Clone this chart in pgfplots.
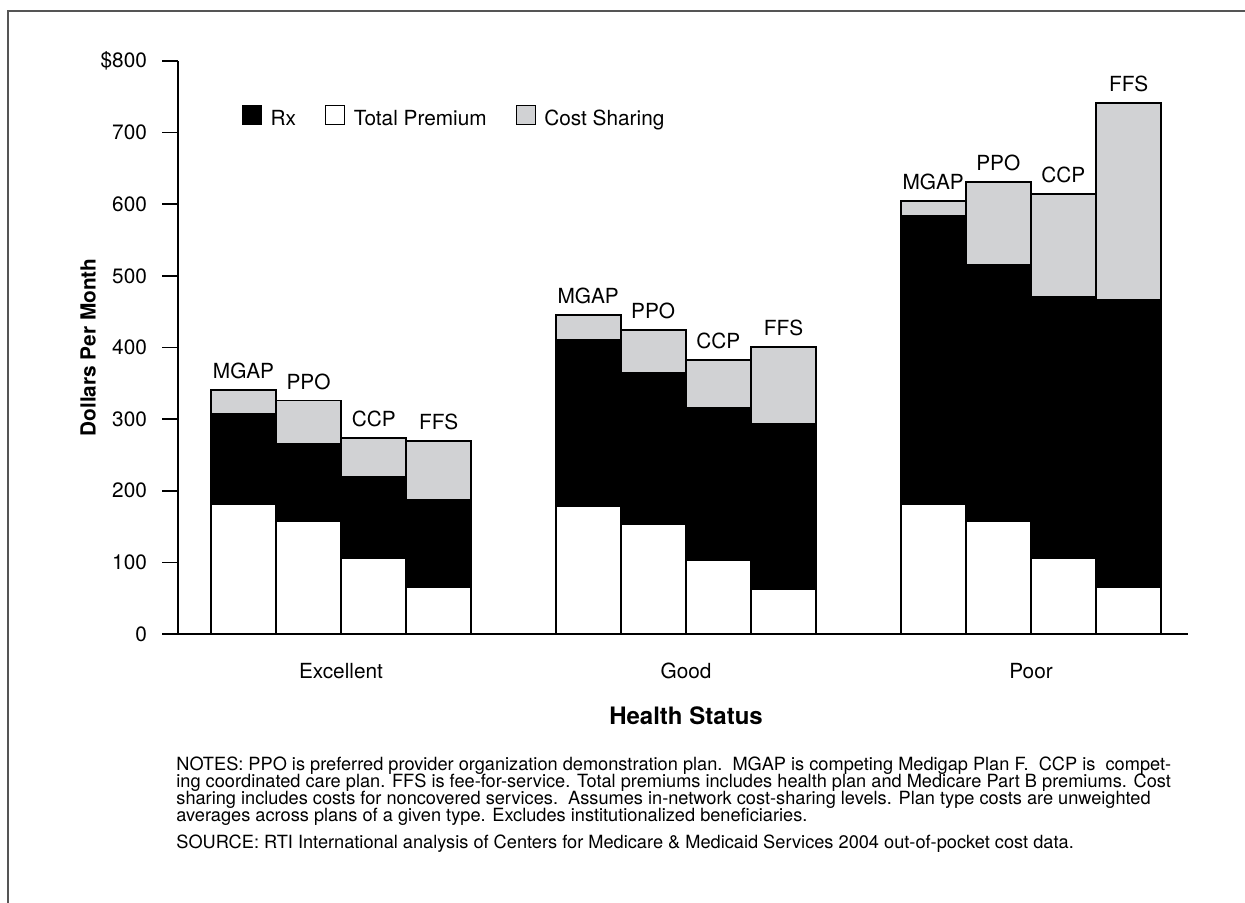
\documentclass[border=0pt]{standalone}
\usepackage{pgfplots}
\pgfplotsset{compat=1.18}
\usepackage{fontspec}
\setmainfont{TeX Gyre Heros}
\definecolor{csgray}{HTML}{D1D2D4}
\definecolor{framegray}{HTML}{555555}
\newcommand{\lab}{\fontsize{10.4}{12}\selectfont}
\newcommand{\notefont}{\fontsize{9.1}{10}\selectfont}
\begin{document}
\begin{tikzpicture}
\useasboundingbox (0,0) rectangle (622.5pt,451.5pt);
\fill[white] (0,0) rectangle (622.5pt,451.5pt);
\draw[framegray, line width=1pt] (4.15pt,0) -- (4.15pt,446.1pt) -- (623pt,446.1pt);
\begin{axis}[
  at={(89pt,134.5pt)}, anchor=south west,
  scale only axis, width=505pt, height=286.5pt,
  xmin=178, xmax=1188, ymin=0, ymax=800,
  axis lines=left,
  axis line style={-, line width=0.8pt, black},
  ytick={0,100,...,800},
  yticklabels={0,100,200,300,400,500,600,700,\$800},
  tick align=outside, major tick length=8pt,
  ytick style={line width=0.8pt, black},
  xtick={341,686,1031}, xticklabels={Excellent,Good,Poor},
  xtick style={draw=none},
  ticklabel style={font=\lab},
  yticklabel style={xshift=-4pt},
  xticklabel style={anchor=center, yshift=-10.5pt},
  ylabel={\textbf{Dollars Per Month}},
  ylabel style={font=\lab, at={(axis description cs:-0.0891,0.5)}, anchor=center},
  xlabel={\textbf{Health Status}},
  xlabel style={font=\fontsize{12}{14}\selectfont, at={(axis description cs:0.503,-0.1431)}, anchor=center},
  ybar stacked, bar width=65,
  legend style={at={(axis description cs:0.0631,0.899)}, anchor=west,
    draw=none, fill=none, inner sep=0pt, font=\lab,
    legend columns=3,
    /tikz/every even column/.append style={column sep=12.5pt}},
  legend cell align=left,
  clip=false,
]
\addplot[fill=white, draw=black, line width=0.9pt, forget plot] coordinates {
 (243.5,182) (308.5,157) (373.7,106) (438.7,65)
 (588.2,179) (653.2,153) (718.3,103) (783.5,63)
 (933.2,182) (998.2,157) (1063.3,106) (1128.7,66)};
\addplot[fill=black, draw=black, line width=0.9pt, forget plot] coordinates {
 (243.5,125) (308.5,109) (373.7,113) (438.7,122)
 (588.2,232) (653.2,211) (718.3,212) (783.5,231)
 (933.2,402) (998.2,359) (1063.3,364) (1128.7,401)};
\addplot[fill=csgray, draw=black, line width=0.9pt, forget plot] coordinates {
 (243.5,34) (308.5,60) (373.7,55) (438.7,82)
 (588.2,34) (653.2,60) (718.3,67) (783.5,107)
 (933.2,20) (998.2,115) (1063.3,144) (1128.7,274)};
\addlegendimage{legend image code/.code={\draw[fill=black,draw=black,line width=0.6pt] (0pt,-2.5pt) rectangle (9.5pt,7pt);\path[draw=none,fill=none] (0,0) -- (12pt,0);}}
\addlegendentry{Rx}
\addlegendimage{legend image code/.code={\draw[fill=white,draw=black,line width=0.6pt] (0pt,-2.5pt) rectangle (9.5pt,7pt);\path[draw=none,fill=none] (0,0) -- (12pt,0);}}
\addlegendentry{Total Premium}
\addlegendimage{legend image code/.code={\draw[fill=csgray,draw=black,line width=0.6pt] (0pt,-2.5pt) rectangle (9.5pt,7pt);\path[draw=none,fill=none] (0,0) -- (12pt,0);}}
\addlegendentry{Cost Sharing}
\foreach \xx/\yy/\tt in {243.5/341/MGAP, 308.5/326/PPO, 373.7/274/CCP, 438.7/269/FFS,
  588.2/445/MGAP, 653.2/424/PPO, 718.3/382/CCP, 783.5/401/FFS,
  933.2/604/MGAP, 998.2/631/PPO, 1063.3/614/CCP, 1128.7/741/FFS}{
  \edef\tmp{\noexpand\node[anchor=south, font=\noexpand\lab, yshift=2pt] at (axis cs:\xx,\yy) {\tt};}
  \tmp
}
\end{axis}
\node[anchor=base west, inner sep=0pt, font=\notefont] at (88pt,66.2pt) {NOTES: PPO is preferred provider organization demonstration plan.\ \ MGAP is competing Medigap Plan F.\ \ CCP is\ \ compet-};
\node[anchor=base west, inner sep=0pt, font=\notefont] at (88pt,57.7pt) {ing coordinated care plan. FFS is fee-for-service. Total premiums includes health plan and Medicare Part B premiums. Cost};
\node[anchor=base west, inner sep=0pt, font=\notefont] at (88pt,49.2pt) {sharing includes costs for noncovered services.\ \ Assumes in-network cost-sharing levels. Plan type costs are unweighted};
\node[anchor=base west, inner sep=0pt, font=\notefont] at (88pt,40.7pt) {averages across plans of a given type. Excludes institutionalized beneficiaries.};
\node[anchor=base west, inner sep=0pt, font=\notefont] at (88pt,27.2pt) {SOURCE: RTI International analysis of Centers for Medicare \& Medicaid Services 2004 out-of-pocket cost data.};
\end{tikzpicture}
\end{document}
